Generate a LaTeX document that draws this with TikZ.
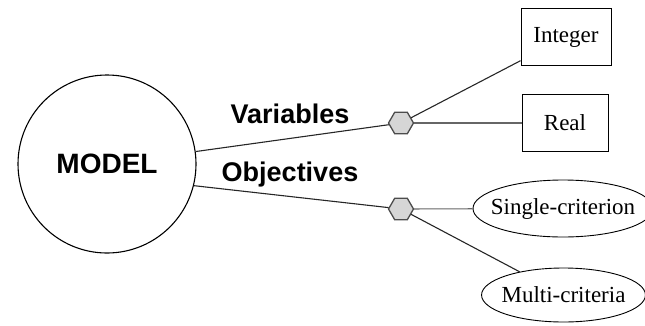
\documentclass[tikz,border=0pt]{standalone}
\usepackage{fontspec}
\setmainfont{Liberation Serif}
\newfontfamily\headfont{Liberation Sans}
\usepackage{tikz}
\usetikzlibrary{shapes.geometric,positioning}

\begin{document}
\begin{tikzpicture}[x=1pt,y=-1pt,-,line width=1.1pt,
                    main node/.style={circle,draw,line width=1.1pt,minimum size=178pt,
                      font=\headfont\fontsize{28}{30}\selectfont\bfseries},
                    hub node/.style={regular polygon,regular polygon sides=6,draw=black!70,
                      fill=black!16,line width=1.3pt,minimum size=25pt,inner sep=0pt},
                    kind node/.style={draw,line width=0.9pt,font=\fontsize{23}{25}\selectfont},
                    tag node/.style={font=\headfont\fontsize{27}{29}\selectfont\bfseries}]

  \clip (0,0) rectangle (645,325);

  \node[main node] (model) at (107,164) {MODEL};
  \node[hub node] (hv) at (401,123) {};
  \node[hub node] (ho) at (401,209) {};
  \node[tag node] (var) at (290,114) {Variables};
  \node[tag node] (obj) at (290,175) {Objectives};

  \node[kind node,minimum width=90pt,minimum height=57pt] (int) at (566,37) {Integer};
  \node[kind node,minimum width=86pt,minimum height=57pt] (real) at (565,123) {Real};
  \node[kind node,ellipse,minimum width=180pt,minimum height=57pt,inner xsep=-9pt,inner ysep=0pt] (single) at (563,208.5) {Single-criterion};
  \node[kind node,ellipse,minimum width=157pt,minimum height=54pt,inner xsep=-4pt,inner ysep=0pt] (multi) at (563.5,295) {Multi-criteria};

  \path[draw=black!85]
    (model.8) edge (hv)
    (model.-14) edge (ho)
    (hv) edge (int)
    edge[draw=black!60] (real)
    (ho) edge[draw=black!60] (single)
    edge (multi);

\end{tikzpicture}
\end{document}
